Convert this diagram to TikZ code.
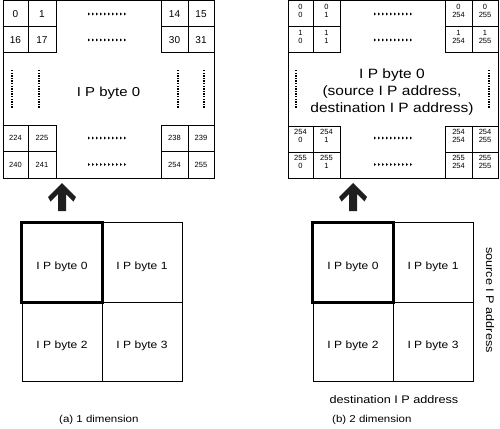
\documentclass[tikz,border=0pt]{standalone}
\usepackage{fontspec}
\setmainfont{Liberation Sans}[FakeStretch=1.15]
\newfontfamily\numfont{Liberation Sans}
\begin{document}
\begin{tikzpicture}[x=1pt,y=-1pt,
  gridline/.style={line width=1pt},
  boldframe/.style={line width=3pt},
  bignum/.style={font=\numfont\fontsize{10}{12}\selectfont, inner sep=0pt},
  smallnum/.style={font=\numfont\fontsize{7.5}{8}\selectfont, inner sep=0pt},
  pairnum/.style={font=\numfont\fontsize{7.5}{8}\selectfont, inner sep=0pt, align=center},
  bytecell/.style={draw, line width=1pt, minimum width=80pt, minimum height=79.5pt, inner sep=0pt,
                   text height=13pt, text depth=0pt, font=\fontsize{10.5}{12}\selectfont},
  vdots/.style={line width=2pt, dash pattern=on 1.4pt off 1.2pt},
  capt/.style={font=\fontsize{10}{12}\selectfont, inner sep=0pt},
  axislabel/.style={font=\fontsize{11}{13}\selectfont, inner sep=0pt},
  arrowfill/.style={fill=black!88},
]
\useasboundingbox (0,0) rectangle (500,428);

% ---------------- left top box ----------------
\draw[gridline] (3,1) rectangle (214,178);
\foreach \x in {28,56,161,188} {
  \draw[gridline] (\x,1) -- (\x,53);
  \draw[gridline] (\x,125) -- (\x,178);
}
\foreach \y in {27,53,125,151} {
  \draw[gridline] (3,\y) -- (56,\y);
  \draw[gridline] (161,\y) -- (214,\y);
}
\foreach \n/\x/\y in {0/15.5/14, 1/42/14, 14/174.5/14, 15/201/14,
                      16/15.5/40, 17/42/40, 30/174.5/40, 31/201/40}
  \node[bignum] (L\n) at (\x,\y) {\n};
\foreach \n/\x/\y in {224/15.5/138, 225/42/138, 238/174.5/138, 239/201/138,
                      240/15.5/164.5, 241/42/164.5, 254/174.5/164.5, 255/201/164.5}
  \node[smallnum] (L\n) at (\x,\y) {\n};
\foreach \y in {14,40,138,164.5}
  \foreach \i in {0,...,9}
    \fill ({88+4*\i},{\y-1.5}) -- ++(2,1.5) -- ++(-2,1.5) -- cycle;
\foreach \x in {12,39,178,204}
  \draw[vdots] (\x,70) -- (\x,108);
\node[font=\fontsize{13}{15}\selectfont, inner sep=0pt, anchor=base] (Ltitle) at (108.5,96.7) {I P byte 0};

% ---------------- right top box ----------------
\draw[gridline] (288,1) rectangle (498,178);
\foreach \x in {313,340,445,472} {
  \draw[gridline] (\x,1) -- (\x,53);
  \draw[gridline] (\x,126) -- (\x,178);
}
\foreach \y in {26.5,53,126,152} {
  \draw[gridline] (288,\y) -- (340,\y);
  \draw[gridline] (445,\y) -- (498,\y);
}
\foreach \a/\y in {0/11.2, 1/37.3, 254/136.3, 255/162}
  \foreach \b/\x in {0/300.5, 1/326.5, 254/458.5, 255/485}
    \node[pairnum] (R\a-\b) at (\x,\y) {\a\\\b};
\foreach \y in {14,40,138,164.5}
  \foreach \i in {0,...,9}
    \fill ({374+4*\i},{\y-1.5}) -- ++(2,1.5) -- ++(-2,1.5) -- cycle;
\foreach \x in {296,489}
  \draw[vdots] (\x,70) -- (\x,108);
\node[font=\fontsize{13.5}{17}\selectfont, align=center, inner sep=0pt] (Rtitle) at (392,92.5)
  {I P byte 0\\(source I P address,\\destination I P address)};

% ---------------- arrows ----------------
\coordinate (arrA) at (62,211);
\coordinate (arrB) at (353,211);
\foreach \c in {arrA,arrB}
  \fill[arrowfill, shift={(\c)}] (0,-28) -- (14,-14) -- (11.5,-9.5) -- (4,-17) -- (4,0)
     -- (-4,0) -- (-4,-17) -- (-11.5,-9.5) -- (-14,-14) -- cycle;

% ---------------- bottom grids ----------------
\node[bytecell] (a0) at (62,262.5) {I P byte 0};
\node[bytecell] (a1) at (142,262.5) {I P byte 1};
\node[bytecell] (a2) at (62,342) {I P byte 2};
\node[bytecell] (a3) at (142,342) {I P byte 3};
\draw[boldframe] (a0.north west) rectangle (a0.south east);

\node[bytecell] (b0) at (353,262.5) {I P byte 0};
\node[bytecell] (b1) at (433,262.5) {I P byte 1};
\node[bytecell] (b2) at (353,342) {I P byte 2};
\node[bytecell] (b3) at (433,342) {I P byte 3};
\draw[boldframe] (b0.north west) rectangle (b0.south east);

\node[axislabel, rotate=-90] (srcaxis) at (490,300) {source I P address};
\node[axislabel, anchor=base] (dstaxis) at (394,403) {destination I P address};

\node[capt, anchor=base west] (capA) at (59,422.5) {(a) 1 dimension};
\node[capt, anchor=base west] (capB) at (332,422.5) {(b) 2 dimension};
\end{tikzpicture}
\end{document}
